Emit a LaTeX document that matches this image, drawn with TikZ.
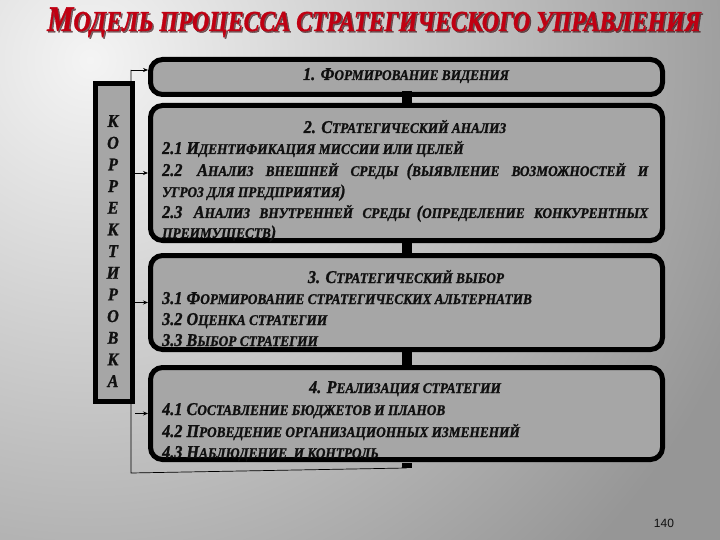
\documentclass[tikz,border=0pt]{standalone}
\usepackage{fontspec}
\setmainfont{Liberation Serif}
\newfontfamily\bxfont[FakeStretch=0.9,FakeBold=1.2]{Liberation Serif Bold Italic}
\newfontfamily\ttlfont[FakeStretch=0.82,FakeBold=1]{Liberation Serif Bold Italic}
\setsansfont{Liberation Sans}
\usetikzlibrary{arrows.meta}
\definecolor{bgdark}{HTML}{969696}
\definecolor{bglight}{HTML}{F4F4F4}
\definecolor{boxfill}{HTML}{A6A6A6}
\definecolor{txt}{HTML}{101010}
\definecolor{titlered}{HTML}{C00012}
\newcommand\Bg[1]{{\fontsize{18}{20}\selectfont #1}}
\newcommand\Sm[1]{{\fontsize{14.8}{17}\selectfont #1}}
\newcommand\TB[1]{{\fontsize{36}{38}\selectfont #1}}
\newcommand\TS[1]{{\fontsize{29}{31}\selectfont #1}}
\tikzset{
  stagebox/.style={draw=black, line width=5pt, fill=boxfill, rounded corners=12pt,
    minimum width=512pt, inner sep=0pt},
  sidebox/.style={draw=black, line width=5pt, fill=boxfill, minimum width=37pt,
    minimum height=318pt, inner sep=0pt},
  lbl/.style={inner sep=0pt, text=txt, font=\bxfont},
  ltr/.style={inner sep=0pt, text=txt, font=\bxfont\fontsize{18}{20}\selectfont, anchor=base},
  link/.style={draw=black, line width=10pt},
  fb/.style={draw=black, line width=0.7pt},
  fbarrow/.style={draw=black, line width=0.7pt, -{Stealth[length=5pt,width=4pt]}},
}
\begin{document}
\begin{tikzpicture}[x=1pt,y=-1pt]
\useasboundingbox (0,0) rectangle (720,540);
% background
\begin{scope}
\clip (0,0) rectangle (720,540);
\fill[bgdark] (0,0) rectangle (720,540);
\shade[inner color=bglight, outer color=bgdark] (90,60) circle (700);
\end{scope}
% title
\node[inner sep=0pt, anchor=base, text=black!75!titlered, opacity=0.6, font=\ttlfont]
  (titleshadow) at (375.5,32.5) {\TB{М}\TS{ОДЕЛЬ ПРОЦЕССА СТРАТЕГИЧЕСКОГО УПРАВЛЕНИЯ}};
\node[inner sep=0pt, anchor=base, text=titlered, font=\ttlfont]
  (title) at (374,31) {\TB{М}\TS{ОДЕЛЬ ПРОЦЕССА СТРАТЕГИЧЕСКОГО УПРАВЛЕНИЯ}};
% stage boxes
\node[stagebox, minimum height=35pt] (b1) at (406.5,77) {};
\node[stagebox, minimum height=135pt] (b2) at (406.5,173) {};
\node[stagebox, minimum height=94pt] (b3) at (406.5,302.5) {};
\node[stagebox, minimum height=92pt] (b4) at (406.5,413.5) {};
% feedback loop
\coordinate (fbcorner) at (131,473);
\coordinate (fbtop) at (131,70);
\draw[link] ([yshift=-1pt]b4.south) -- ([yshift=-6pt]b4.south);
\draw[fb] ([yshift=-6pt]b4.south) -- (fbcorner) -- (fbtop);
\draw[fbarrow] (fbtop) -- (b1.west |- fbtop);
% side box
\node[sidebox] (lb) at (114,242.5) {};
\draw[fbarrow] (lb.east |- b2.west) -- (b2.west);
\draw[fbarrow] (lb.east |- b3.west) -- (b3.west);
\draw[fbarrow] (lb.east |- b4.west) -- (b4.west);
% links between stages
\draw[link] ([yshift=6pt]b1.south) -- (b2.north);
\draw[link] ([yshift=2pt]b2.south) -- ([yshift=-2pt]b3.north);
\draw[link] ([yshift=2pt]b3.south) -- ([yshift=-2pt]b4.north);
% side letters
\foreach \L [count=\i from 0] in {К,О,Р,Р,Е,К,Т,И,Р,О,В,К,А}{
  \node[ltr] (side\i) at (113,{127+21.67*\i}) {\L};
}
% box 1
\node[lbl, anchor=base] (t1) at (406,80) {\Bg{1. Ф}\Sm{ОРМИРОВАНИЕ ВИДЕНИЯ}};
% box 2
\node[lbl, anchor=base] (t2) at (405,133) {\Bg{2. С}\Sm{ТРАТЕГИЧЕСКИЙ АНАЛИЗ}};
\node[lbl, anchor=base west] (t21) at (162,154) {\Bg{2.1 И}\Sm{ДЕНТИФИКАЦИЯ МИССИИ ИЛИ ЦЕЛЕЙ}};
\node[lbl, anchor=base west] (t22) at (162,176) {\makebox[486pt][s]{\Bg{2.2 А}\Sm{НАЛИЗ ВНЕШНЕЙ СРЕДЫ} \Bg{(}\Sm{ВЫЯВЛЕНИЕ ВОЗМОЖНОСТЕЙ И}}};
\node[lbl, anchor=base west] (t22b) at (162,197) {\Sm{УГРОЗ ДЛЯ ПРЕДПРИЯТИЯ}\Bg{)}};
\node[lbl, anchor=base west] (t23) at (162,218) {\makebox[486pt][s]{\Bg{2.3 А}\Sm{НАЛИЗ ВНУТРЕННЕЙ СРЕДЫ} \Bg{(}\Sm{ОПРЕДЕЛЕНИЕ КОНКУРЕНТНЫХ}}};
\node[lbl, anchor=base west] (t23b) at (162,238) {\Sm{ПРЕИМУЩЕСТВ}\Bg{)}};
% box 3
\node[lbl, anchor=base] (t3) at (406,283) {\Bg{3. С}\Sm{ТРАТЕГИЧЕСКИЙ ВЫБОР}};
\node[lbl, anchor=base west] (t31) at (162,304) {\Bg{3.1 Ф}\Sm{ОРМИРОВАНИЕ СТРАТЕГИЧЕСКИХ АЛЬТЕРНАТИВ}};
\node[lbl, anchor=base west] (t32) at (162,325) {\Bg{3.2 О}\Sm{ЦЕНКА СТРАТЕГИИ}};
\node[lbl, anchor=base west] (t33) at (162,346) {\Bg{3.3 В}\Sm{ЫБОР СТРАТЕГИИ}};
% box 4
\node[lbl, anchor=base] (t4) at (405,393) {\Bg{4. Р}\Sm{ЕАЛИЗАЦИЯ СТРАТЕГИИ}};
\node[lbl, anchor=base west] (t41) at (162,415) {\Bg{4.1 С}\Sm{ОСТАВЛЕНИЕ БЮДЖЕТОВ И ПЛАНОВ}};
\node[lbl, anchor=base west] (t42) at (162,437) {\Bg{4.2 П}\Sm{РОВЕДЕНИЕ ОРГАНИЗАЦИОННЫХ ИЗМЕНЕНИЙ}};
\node[lbl, anchor=base west] (t43) at (162,458) {\Bg{4.3 Н}\Sm{АБЛЮДЕНИЕ\ \ И КОНТРОЛЬ}};
% page number
\node[inner sep=0pt, anchor=base, font=\sffamily\fontsize{12}{14}\selectfont, text=txt] (pg) at (664,527) {140};
\end{tikzpicture}
\end{document}
